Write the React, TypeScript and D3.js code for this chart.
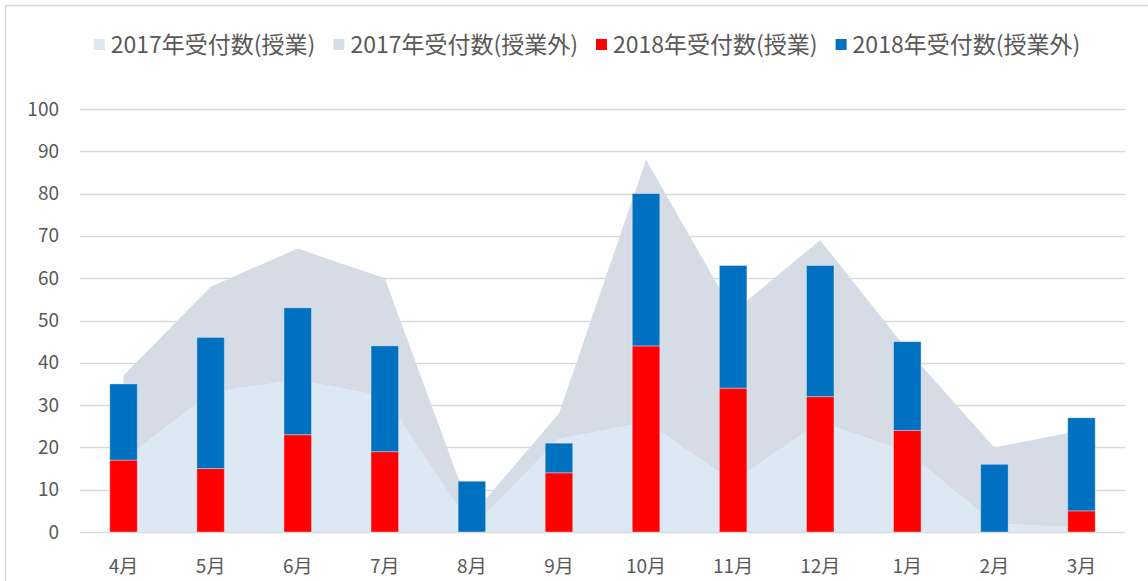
import { useEffect, useRef } from 'react';
import * as d3 from 'd3';

const MONTHS = ['4月', '5月', '6月', '7月', '8月', '9月', '10月', '11月', '12月', '1月', '2月', '3月'];

// 2017 is drawn as stacked areas, 2018 as stacked columns
const CLASS_2017 = [17, 33, 36, 32, 1, 22, 26, 12, 26, 19, 2, 1];
const OTHER_2017 = [20, 25, 31, 28, 3, 6, 62, 40, 43, 24, 18, 23];
const CLASS_2018 = [17, 15, 23, 19, 0, 14, 44, 34, 32, 24, 0, 5];
const OTHER_2018 = [18, 31, 30, 25, 12, 7, 36, 29, 31, 21, 16, 22];

const Y_TICKS = [0, 10, 20, 30, 40, 50, 60, 70, 80, 90, 100];

const LEGEND = [
  { label: '2017年受付数(授業)', fill: '#dde8f5' },
  { label: '2017年受付数(授業外)', fill: '#d6dce5' },
  { label: '2018年受付数(授業)', fill: '#ff0000' },
  { label: '2018年受付数(授業外)', fill: '#0070c0' },
];

const WIDTH = 1148;
const HEIGHT = 581;
const PLOT = { left: 80, right: 1125, top: 109, bottom: 532 };
const FONT = '"Noto Sans CJK JP", "Noto Sans", sans-serif';
const TEXT_COLOR = '#595959';
const GRID_COLOR = '#d9d9d9';

export default function App() {
  const svgRef = useRef<SVGSVGElement>(null);

  useEffect(() => {
    document.body.style.margin = '0';

    const svg = d3.select(svgRef.current);
    svg.selectAll('*').remove();
    svg.attr('width', WIDTH).attr('height', HEIGHT).style('font-family', FONT);

    svg.append('rect').attr('width', WIDTH).attr('height', HEIGHT).attr('fill', '#fff');
    // chart frame, running off the right and bottom edges
    svg
      .append('rect')
      .attr('x', 5.5)
      .attr('y', 5.5)
      .attr('width', WIDTH + 20)
      .attr('height', HEIGHT + 20)
      .attr('fill', 'none')
      .attr('stroke', GRID_COLOR)
      .attr('stroke-width', 1.5);

    const x = d3.scaleBand<string>().domain(MONTHS).range([PLOT.left, PLOT.right]);
    const y = d3.scaleLinear().domain([0, 100]).range([PLOT.bottom, PLOT.top]);
    const cx = (m: string) => (x(m) ?? 0) + x.bandwidth() / 2;

    // Gridlines --------------------------------------------------------------
    svg
      .append('g')
      .selectAll('line')
      .data(Y_TICKS)
      .join('line')
      .attr('x1', PLOT.left)
      .attr('x2', PLOT.right)
      .attr('y1', (d) => Math.round(y(d)) + 0.5)
      .attr('y2', (d) => Math.round(y(d)) + 0.5)
      .attr('stroke', GRID_COLOR)
      .attr('stroke-width', 1.3);

    // 2017 stacked areas -------------------------------------------------------
    const rows2017 = MONTHS.map((m, i) => ({ month: m, cls: CLASS_2017[i], other: OTHER_2017[i] }));
    const stack2017 = d3.stack<any>().keys(['cls', 'other'])(rows2017);
    const area = d3
      .area<any>()
      .x((d) => cx(d.data.month))
      .y0((d) => y(d[0]))
      .y1((d) => y(d[1]));

    svg
      .append('g')
      .selectAll('path')
      .data(stack2017)
      .join('path')
      .attr('d', (s) => area(s))
      .attr('fill', (_, i) => LEGEND[i].fill);

    // 2018 stacked columns -----------------------------------------------------
    const rows2018 = MONTHS.map((m, i) => ({ month: m, cls: CLASS_2018[i], other: OTHER_2018[i] }));
    const stack2018 = d3.stack<any>().keys(['cls', 'other'])(rows2018);
    const barWidth = 27.5;

    svg
      .append('g')
      .selectAll('g')
      .data(stack2018)
      .join('g')
      .attr('fill', (_, i) => LEGEND[i + 2].fill)
      .selectAll('rect')
      .data((s) => s.filter((d) => d[1] > d[0]))
      .join('rect')
      .attr('x', (d) => cx(d.data.month) - barWidth / 2)
      .attr('y', (d) => y(d[1]))
      .attr('width', barWidth)
      .attr('height', (d) => y(d[0]) - y(d[1]))
      .attr('stroke', 'rgba(255,255,255,0.35)')
      .attr('stroke-width', 1);

    // Axes ---------------------------------------------------------------------
    const yAxis = d3.axisLeft(y).tickValues(Y_TICKS).tickSize(0).tickPadding(0);
    svg
      .append('g')
      .attr('transform', 'translate(59,0)')
      .call(yAxis)
      .call((g) => g.select('.domain').remove())
      .selectAll('text')
      .style('font-family', FONT)
      .style('font-size', '19px')
      .attr('fill', TEXT_COLOR);

    const xAxis = d3.axisBottom(x).tickSize(0).tickPadding(0);
    svg
      .append('g')
      .attr('transform', `translate(0,${PLOT.bottom + 27})`)
      .call(xAxis)
      .call((g) => g.select('.domain').remove())
      .selectAll('text')
      .style('font-family', FONT)
      .style('font-size', '19px')
      .attr('fill', TEXT_COLOR);

    // Legend -------------------------------------------------------------------
    const legend = svg.append('g');
    const swatch = 11;
    const labelGap = 6;
    const itemGap = 18;
    let cursor = 0;
    for (const item of LEGEND) {
      const g = legend.append('g').attr('transform', `translate(${cursor},0)`);
      g.append('rect').attr('y', 39).attr('width', swatch).attr('height', swatch).attr('fill', item.fill);
      const text = g
        .append('text')
        .attr('x', swatch + labelGap)
        .attr('y', 53)
        .style('font-size', '23px')
        .attr('fill', TEXT_COLOR)
        .text(item.label);
      cursor += swatch + labelGap + (text.node() as SVGTextElement).getComputedTextLength() + itemGap;
    }
    const legendWidth = cursor - itemGap;
    legend.attr('transform', `translate(${587 - legendWidth / 2},0)`);
  }, []);

  return <svg ref={svgRef} style={{ display: 'block' }} />;
}
